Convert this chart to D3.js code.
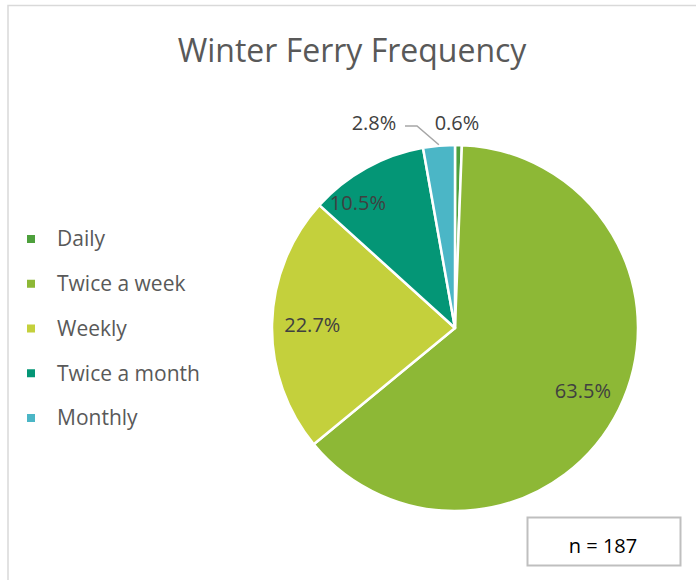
<!DOCTYPE html>
<html>
<head>
<meta charset="utf-8">
<script src="https://cdn.jsdelivr.net/npm/d3@7"></script>
<style>
  body { margin: 0; background: #fff; }
  svg { display: block; font-family: "Open Sans", sans-serif; }
</style>
</head>
<body>
<div id="chart"></div>
<script>
// data
const categories = ["Daily", "Twice a week", "Weekly", "Twice a month", "Monthly"];
const shares = [0.6, 63.5, 22.7, 10.5, 2.8];
const colors = ["#4ea03c", "#8db836", "#c4d03c", "#049676", "#4bb6c6"];
const title = "Winter Ferry Frequency";
const note = "n = 187";

const w = 696, h = 580;
const cx = 455, cy = 328, r = 183;

const svg = d3.select("#chart").append("svg").attr("width", w).attr("height", h);

// outer frame
svg.append("rect")
  .attr("x", 8).attr("y", 5.5)
  .attr("width", 700).attr("height", 600)
  .attr("fill", "none").attr("stroke", "#d9d9d9").attr("stroke-width", 1.5);

// title
svg.append("text")
  .attr("x", 352).attr("y", 62)
  .attr("text-anchor", "middle")
  .style("font-size", "32px")
  .style("fill", "#595959")
  .text(title);

// pie
const pie = d3.pie().sort(null).value(d => d.v);
const arcs = pie(categories.map((c, i) => ({ c, v: shares[i], i })));
const arc = d3.arc().innerRadius(0).outerRadius(r);

const g = svg.append("g").attr("transform", `translate(${cx},${cy})`);
g.selectAll("path")
  .data(arcs)
  .enter()
  .append("path")
  .attr("d", arc)
  .attr("fill", d => colors[d.data.i])
  .attr("stroke", "#fff")
  .attr("stroke-width", 2.5)
  .attr("stroke-linejoin", "round");

// data labels (the teal one sits a bit further out/left, like excel's best fit)
const fmt = d => d.toFixed(1) + "%";
const labelArc = d3.arc().innerRadius(r * 0.78).outerRadius(r * 0.78);
const nudge = { "Twice a month": [-28, 0] };
const inside = arcs.filter(d => d.data.v > 5);
g.selectAll("text.inl")
  .data(inside)
  .enter()
  .append("text")
  .attr("class", "inl")
  .attr("transform", d => {
    const [x, y] = labelArc.centroid(d);
    const [dx, dy] = nudge[d.data.c] || [0, 0];
    return `translate(${x + dx},${y + dy})`;
  })
  .attr("text-anchor", "middle")
  .attr("dy", "0.35em")
  .style("font-size", "20px")
  .style("fill", "#404040")
  .text(d => fmt(d.data.v));

// small slices: labels outside
const small = arcs.filter(d => d.data.v <= 5);
const daily = small.find(d => d.data.c === "Daily");
const monthly = small.find(d => d.data.c === "Monthly");

// Daily label just above the top
g.append("text")
  .attr("x", 2).attr("y", -r - 22)
  .attr("text-anchor", "middle")
  .attr("dy", "0.35em")
  .style("font-size", "20px")
  .style("fill", "#404040")
  .text(fmt(daily.data.v));

// Monthly label with leader line
const mid = (monthly.startAngle + monthly.endAngle) / 2;
const edge = [Math.sin(mid) * (r + 1), -Math.cos(mid) * (r + 1)];
g.append("polyline")
  .attr("points", [[-50, -r - 19], [-38, -r - 19], edge].map(p => p.join(",")).join(" "))
  .attr("fill", "none")
  .attr("stroke", "#a6a6a6")
  .attr("stroke-width", 1.5);
g.append("text")
  .attr("x", -81).attr("y", -r - 22)
  .attr("text-anchor", "middle")
  .attr("dy", "0.35em")
  .style("font-size", "20px")
  .style("fill", "#404040")
  .text(fmt(monthly.data.v));

// legend
const legY = d3.scalePoint().domain(categories).range([239, 418]);
const legend = svg.append("g");
legend.selectAll("rect")
  .data(categories)
  .enter()
  .append("rect")
  .attr("x", 27).attr("y", d => legY(d) - 4)
  .attr("width", 8).attr("height", 8)
  .attr("fill", (d, i) => colors[i]);
legend.selectAll("text")
  .data(categories)
  .enter()
  .append("text")
  .attr("x", 57).attr("y", d => legY(d))
  .attr("dy", "0.35em")
  .style("font-size", "21px")
  .style("fill", "#595959")
  .text(d => d);

// n box
svg.append("rect")
  .attr("x", 527.5).attr("y", 517.5)
  .attr("width", 153).attr("height", 48)
  .attr("fill", "#fff").attr("stroke", "#bfbfbf").attr("stroke-width", 2);
svg.append("text")
  .attr("x", 603).attr("y", 545.5)
  .attr("text-anchor", "middle")
  .attr("dy", "0.35em")
  .style("font-size", "20px")
  .style("fill", "#000")
  .text(note);
</script>
</body>
</html>
